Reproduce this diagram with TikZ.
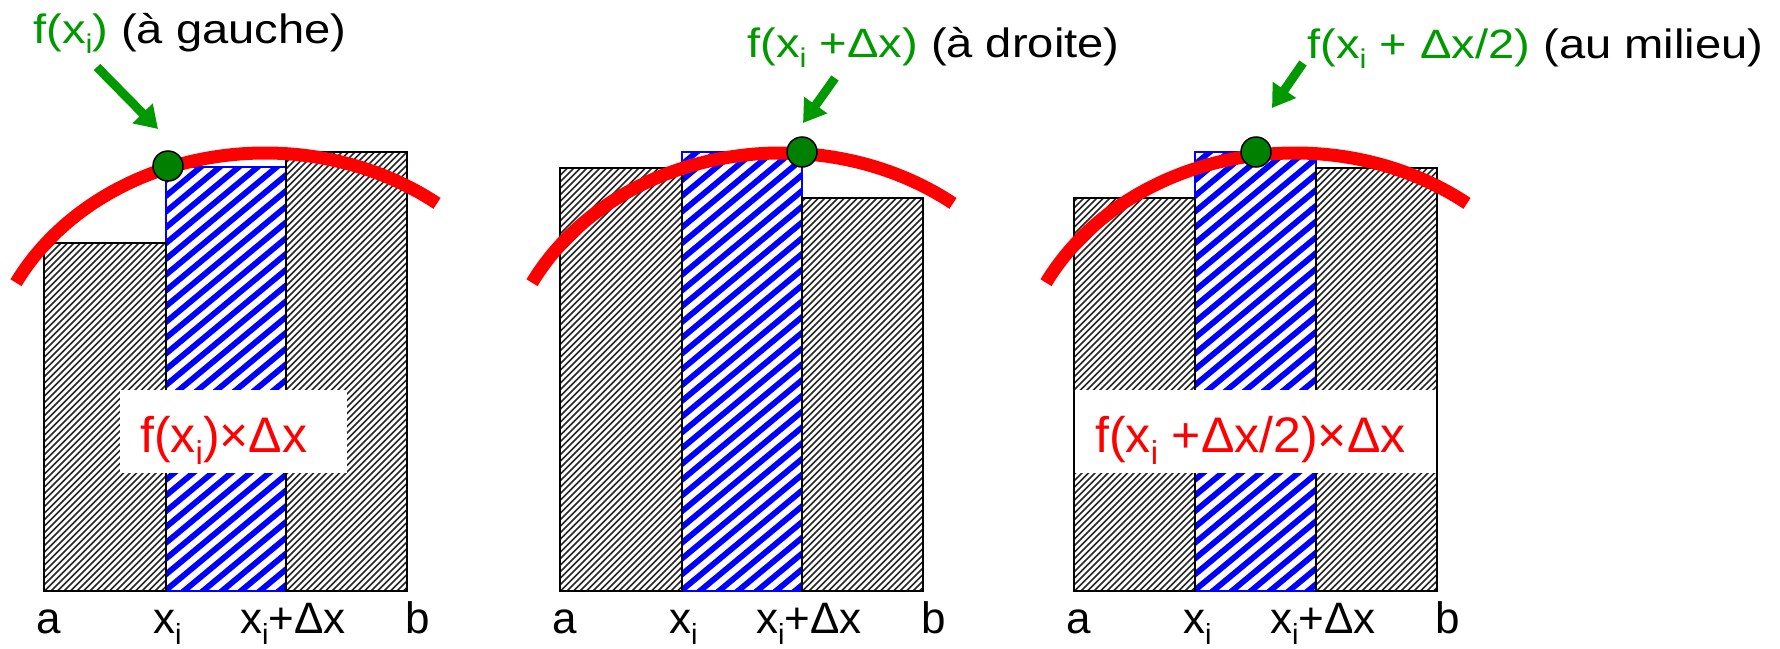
\documentclass[tikz,border=0pt]{standalone}
\usepackage{fontspec}
\setmainfont{Liberation Sans}
\usetikzlibrary{arrows.meta}
\definecolor{tgreen}{RGB}{0,153,0}
\definecolor{dotgreen}{RGB}{0,128,0}
\newcommand{\isub}{\raisebox{-0.25em}{\scalebox{0.66}{i}}}
\newcommand{\hs}[1]{\scalebox{1.15}[1]{#1}}
% hatched bar: x1, y1 (top), x2, y2 (bottom), horizontal period, line width, colour, slope
\newcommand{\hatchbar}[8]{%
  \begin{scope}
    \clip (#1,#2) rectangle (#3,#4);
    \pgfmathtruncatemacro{\nlines}{int((#3-#1+480/#8)/#5)+2}
    \foreach \k in {0,...,\nlines} {
      \draw[#7, line width=#6] ({#1-480/#8+\k*#5}, #4+6) -- ++({500/#8},-500);
    }
  \end{scope}}
\begin{document}
\begin{tikzpicture}[x=1pt,y=-1pt,
  grayedge/.style={draw=black, line width=2pt},
  blueedge/.style={draw=blue, line width=1.5pt},
  curve/.style={red, line width=13pt},
  ptdot/.style={circle, fill=dotgreen, draw=black, line width=1.5pt, minimum size=30pt, inner sep=0pt},
  pointer/.style={tgreen, line width=9pt, -{Triangle[length=22pt,width=27pt]}},
  title/.style={anchor=base west, inner sep=0pt, font=\fontsize{41}{49}\selectfont},
  axislabel/.style={anchor=base west, inner sep=0pt, font=\fontsize{44}{52}\selectfont},
  areabox/.style={fill=white, inner sep=0pt},
  arealabel/.style={anchor=base west, inner sep=0pt, text=red, font=\fontsize{50}{60}\selectfont}
]
\useasboundingbox (0,0) rectangle (1780,648);

% ---------- Panel 1 : left ----------
\begin{scope}
  \hatchbar{166}{167}{286}{591}{19}{5.8pt}{blue}{0.83}
  \draw[blueedge] (166,167) rectangle (286,591);
  \hatchbar{44}{243}{166}{591}{6.5}{1.7pt}{black!85}{1}
  \draw[grayedge] (44,243) rectangle (166,591);
  \hatchbar{286}{152}{407}{591}{6.5}{1.7pt}{black!85}{1}
  \draw[grayedge] (286,152) rectangle (407,591);
  \draw[curve] plot[domain=16:437, samples=90, smooth] (\x, {392-239*sqrt(1-((\x-265)/280)^2)});
  \node[ptdot] (d1) at (168,166) {};
  \node[title] (t1) at (33,43) {\hs{\textcolor{tgreen}{f(x\isub)} (à gauche)}};
  \coordinate (p1s) at (97,67);
  \coordinate (p1e) at (158,129);
  \draw[pointer] (p1s) -- (p1e);
  \node[areabox, minimum width=227pt, minimum height=83pt] (b1) at (233.5,431.5) {};
  \node[arealabel] (l1) at (140,452) {f(x\isub)×Δx};
  \node[axislabel] (a1) at (36,633) {a};
  \node[axislabel] (x1) at (153,633) {x\isub};
  \node[axislabel] (y1) at (240,633) {x\isub+Δx};
  \node[axislabel] (z1) at (405,633) {b};
\end{scope}

% ---------- Panel 2 : right ----------
\begin{scope}[shift={(516,0)}]
  \hatchbar{166}{152}{286}{591}{19}{5.8pt}{blue}{0.83}
  \draw[blueedge] (166,152) rectangle (286,591);
  \hatchbar{44}{168}{166}{591}{6.5}{1.7pt}{black!85}{1}
  \draw[grayedge] (44,168) rectangle (166,591);
  \hatchbar{286}{198}{407}{591}{6.5}{1.7pt}{black!85}{1}
  \draw[grayedge] (286,198) rectangle (407,591);
  \draw[curve] plot[domain=16:437, samples=90, smooth] (\x, {392-239*sqrt(1-((\x-265)/280)^2)});
  \node[ptdot] (d2) at (286,152) {};
  \node[title] (t2) at (231,57) {\hs{\textcolor{tgreen}{f(x\isub\ +Δx)} (à droite)}};
  \coordinate (p2s) at (319,78);
  \coordinate (p2e) at (287,123);
  \draw[pointer] (p2s) -- (p2e);
  \node[axislabel] (a2) at (36,633) {a};
  \node[axislabel] (x2) at (153,633) {x\isub};
  \node[axislabel] (y2) at (240,633) {x\isub+Δx};
  \node[axislabel] (z2) at (405,633) {b};
\end{scope}

% ---------- Panel 3 : middle ----------
\begin{scope}[shift={(1030,0)}]
  \hatchbar{165}{152}{286}{591}{19}{5.8pt}{blue}{0.83}
  \draw[blueedge] (165,152) rectangle (286,591);
  \hatchbar{44}{198}{165}{591}{6.5}{1.7pt}{black!85}{1}
  \draw[grayedge] (44,198) rectangle (165,591);
  \hatchbar{286}{168}{407}{591}{6.5}{1.7pt}{black!85}{1}
  \draw[grayedge] (286,168) rectangle (407,591);
  \draw[curve] plot[domain=16:437, samples=90, smooth] (\x, {392-239*sqrt(1-((\x-265)/280)^2)});
  \node[ptdot] (d3) at (226,152) {};
  \node[title] (t3) at (277,58) {\hs{\textcolor{tgreen}{f(x\isub\ + Δx/2)} (au milieu)}};
  \coordinate (p3s) at (273,63);
  \coordinate (p3e) at (242,108);
  \draw[pointer] (p3s) -- (p3e);
  \node[areabox, minimum width=361pt, minimum height=83pt] (b3) at (225.5,431.5) {};
  \node[arealabel] (l3) at (65,452) {f(x\isub\ +Δx/2)×Δx};
  \node[axislabel] (a3) at (36,633) {a};
  \node[axislabel] (x3) at (153,633) {x\isub};
  \node[axislabel] (y3) at (240,633) {x\isub+Δx};
  \node[axislabel] (z3) at (405,633) {b};
\end{scope}
\end{tikzpicture}
\end{document}
